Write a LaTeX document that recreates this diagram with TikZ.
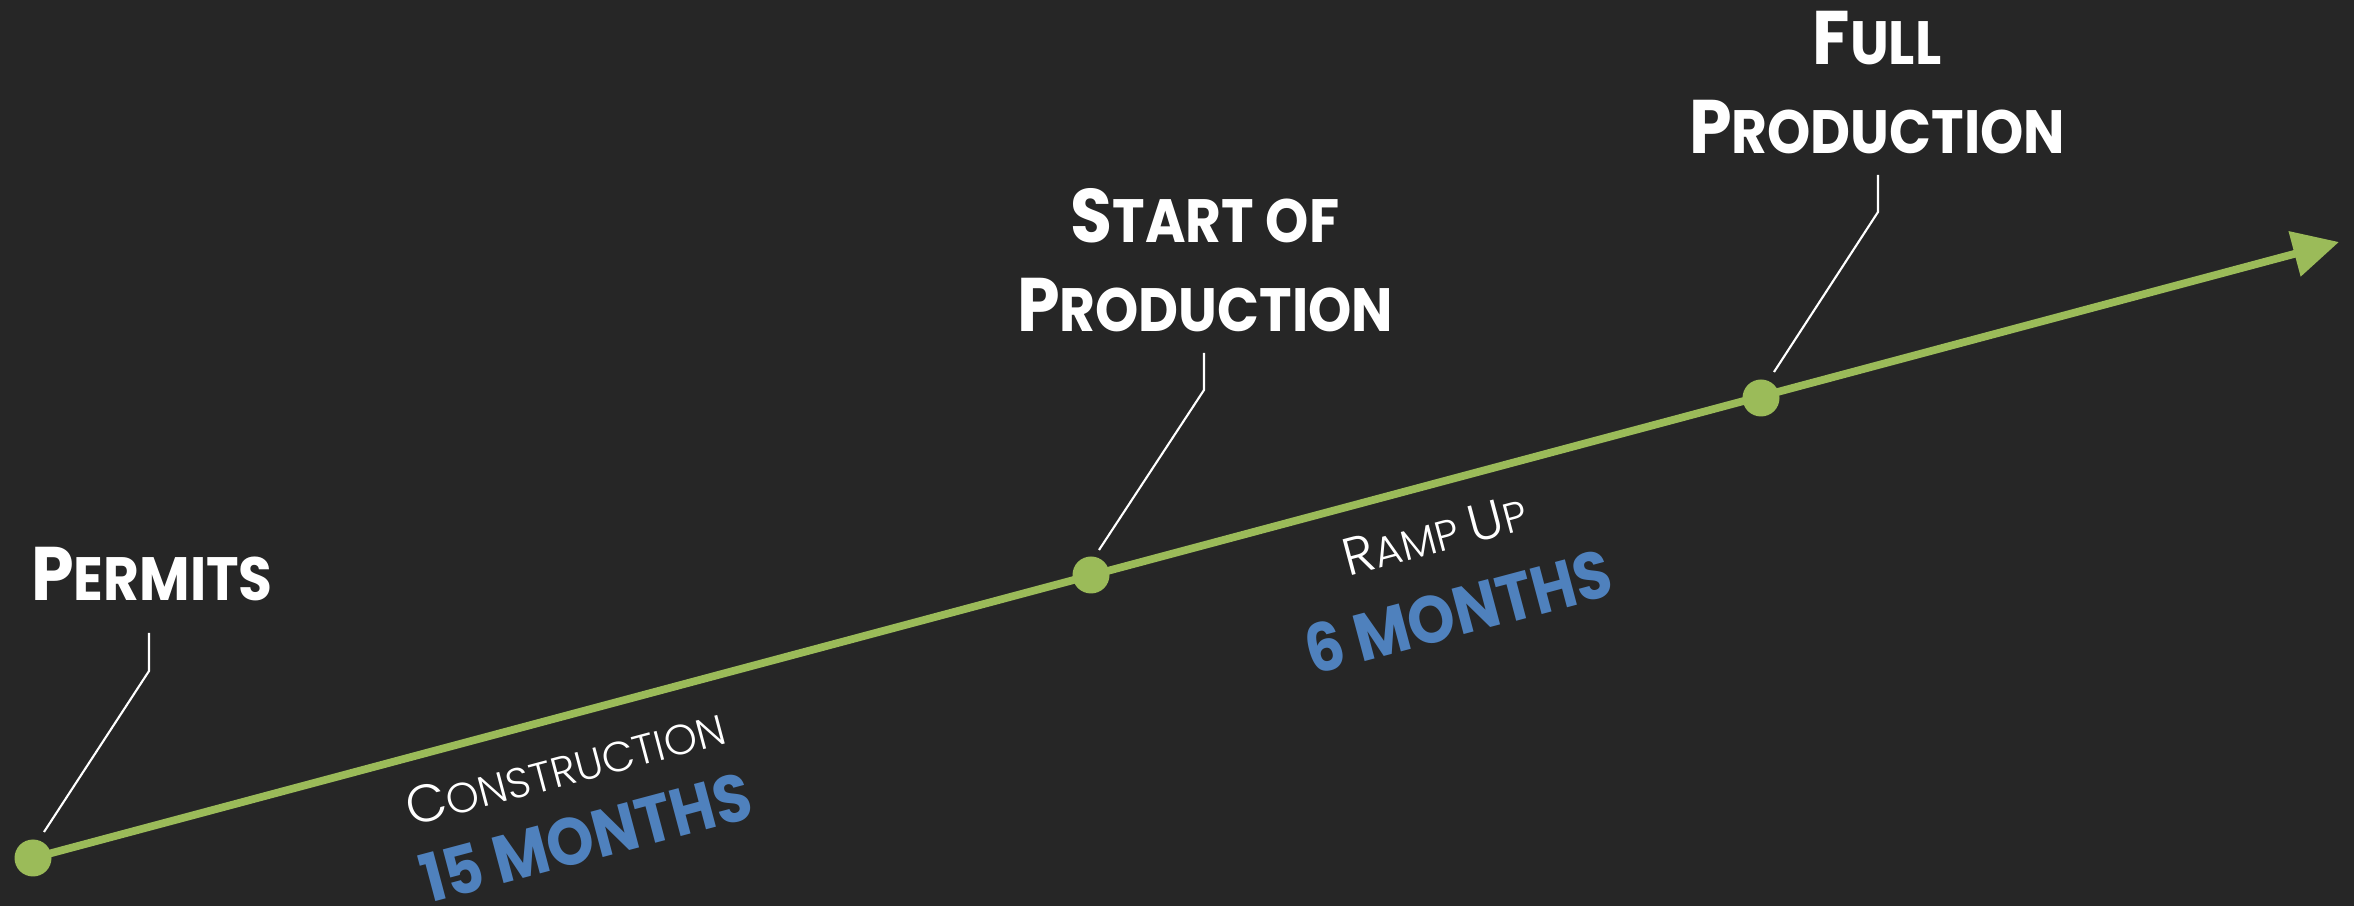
\documentclass[tikz,border=0pt]{standalone}
\usepackage{fontspec}
\setmainfont{Poppins}
\newfontfamily\headfont[FakeStretch=0.9]{Poppins}
\newfontfamily\thinfont{Poppins Light}
\usetikzlibrary{arrows.meta}
\definecolor{bgdark}{HTML}{262626}
\definecolor{tlgreen}{HTML}{9BBB59}
\definecolor{tlblue}{HTML}{4F81BD}
\newcommand{\headcap}[2]{{\fontsize{21.6}{25.2}\selectfont#1}{\fontsize{17.4}{25.2}\selectfont#2}}
\newcommand{\thincap}[2]{{\fontsize{15}{18}\selectfont#1}{\fontsize{12}{18}\selectfont#2}}

\begin{document}
\begin{tikzpicture}[
	dot/.style={circle,fill=tlgreen,minimum size=3.7mm,inner sep=0pt},
	timeline/.style={tlgreen,line width=2.2pt,-{Triangle[length=4.6mm,width=4.5mm]}},
	leader/.style={white,line width=0.6pt},
	heading/.style={text=white,font=\headfont\bfseries\fontsize{21.6}{25.2}\selectfont,align=center,inner sep=0pt,text depth=0pt},
	phase/.style={text=white,font=\thinfont,rotate=14.9,inner sep=0pt},
	span/.style={text=tlblue,font=\headfont\bfseries\fontsize{19}{22}\selectfont,rotate=14.9,inner sep=0pt}]
	\fill[bgdark] (0,0) rectangle (23.54,9.06);
	\node[dot] (d0) at (0.33,0.48) {};
	\node[dot] (d1) at (10.91,3.31) {};
	\node[dot] (d2) at (17.61,5.08) {};
	\coordinate (tip) at (23.39,6.64);
	\draw[timeline] (d0.center) -- (tip);
	\draw[leader] ([shift={(0.11,0.26)}]d0.center) -- ++(1.05,1.61) -- ++(0,0.38);
	\draw[leader] ([shift={(0.08,0.25)}]d1.center) -- ++(1.05,1.6) -- ++(0,0.37);
	\draw[leader] ([shift={(0.13,0.26)}]d2.center) -- ++(1.04,1.6) -- ++(0,0.37);
	\node[heading,anchor=base] (permits) at (1.52,3.05) {\headcap{P}{ERMITS}};
	\node[heading,anchor=south] (sop) at (12.05,5.74) {\headcap{S}{TART OF}\\\headcap{P}{RODUCTION}};
	\node[heading,anchor=south] (fullprod) at (18.77,7.52) {\headcap{F}{ULL}\\\headcap{P}{RODUCTION}};
	\node[phase] (constr) at (5.65,1.39) {\thincap{C}{ONSTRUCTION}};
	\node[span] (constrlen) at (5.86,0.69) {15 MONTHS};
	\node[phase] (ramp) at (14.35,3.71) {\thincap{R}{AMP }\thincap{U}{P}};
	\node[span] (ramplen) at (14.58,2.95) {6 MONTHS};
\end{tikzpicture}
\end{document}
